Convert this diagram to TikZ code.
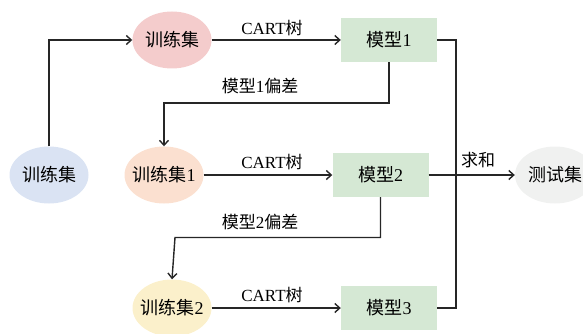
\documentclass[tikz,border=0pt]{standalone}
\usepackage{fontspec}
\setmainfont{Liberation Serif}
\newfontfamily\cjk{Noto Sans CJK SC}
\usetikzlibrary{arrows.meta,shapes.geometric}
\definecolor{cblue}{HTML}{DAE3F3}
\definecolor{cpink}{HTML}{F4CCCC}
\definecolor{cpeach}{HTML}{FBE0D0}
\definecolor{cyellow}{HTML}{FBF0CB}
\definecolor{cgreen}{HTML}{D5E8D4}
\definecolor{cgray}{HTML}{F0F1F0}
\tikzset{
  ell/.style={ellipse, minimum width=79pt, minimum height=57pt, inner xsep=-4pt, inner ysep=0pt, font=\fontsize{18}{21}\selectfont},
  modelbox/.style={rectangle, fill=cgreen, minimum width=96pt, minimum height=44pt, inner sep=0pt, font=\fontsize{18}{21}\selectfont},
  conn/.style={line width=1.4pt, draw=black!85},
  arr/.style={conn, -{Straight Barb[length=5pt,width=9pt,line width=1.4pt]}},
  lbl/.style={font=\fontsize{17}{20}\selectfont, inner sep=0pt}
}
\begin{document}
\begin{tikzpicture}[x=1pt,y=-1pt]
\useasboundingbox (0,0) rectangle (583,334);
\node[ell, fill=cblue] (s0) at (49,175) {\cjk 训练集};
\node[ell, fill=cpink] (s) at (172,40) {\cjk 训练集};
\node[ell, fill=cpeach] (s1) at (164,175) {{\cjk 训练集}1};
\node[ell, fill=cyellow] (s2) at (172,308) {{\cjk 训练集}2};
\node[modelbox] (m1) at (389,40) {{\cjk 模型}1};
\node[modelbox] (m2) at (380.5,175) {{\cjk 模型}2};
\node[modelbox] (m3) at (389,308) {{\cjk 模型}3};
\node[ell, fill=cgray, minimum width=80pt] (t) at (555,175) {\cjk 测试集};
\coordinate (sumx) at (456,0);
\coordinate (b1) at (164,103);
\coordinate (b2) at (175,237.5);
% labels
\node[lbl] (l1) at (272,28) {CART{\cjk 树}};
\node[lbl] (l2) at (272,162) {CART{\cjk 树}};
\node[lbl] (l3) at (272,295) {CART{\cjk 树}};
\node[lbl] (d1) at (260,86) {{\cjk 模型}1{\cjk 偏差}};
\node[lbl] (d2) at (260,222) {{\cjk 模型}2{\cjk 偏差}};
\node[lbl, font=\fontsize{17}{20}\selectfont\cjk] (sum) at (478,160) {求和};
% connectors
\draw[arr] (s0.north) |- (s.west);
\draw[arr] (s.east) -- (m1.west);
\draw[arr] (m1.south) |- (b1) -- (s1.north);
\draw[arr] (s1.east) -- (m2.west);
\draw[arr] (m2.south) |- (b2) -- (s2.north);
\draw[arr] (s2.east) -- (m3.west);
\draw[conn] (m1.east) -| (sumx |- m3.east) -- (m3.east);
\draw[arr] (m2.east) -- (t.west);
\end{tikzpicture}
\end{document}
